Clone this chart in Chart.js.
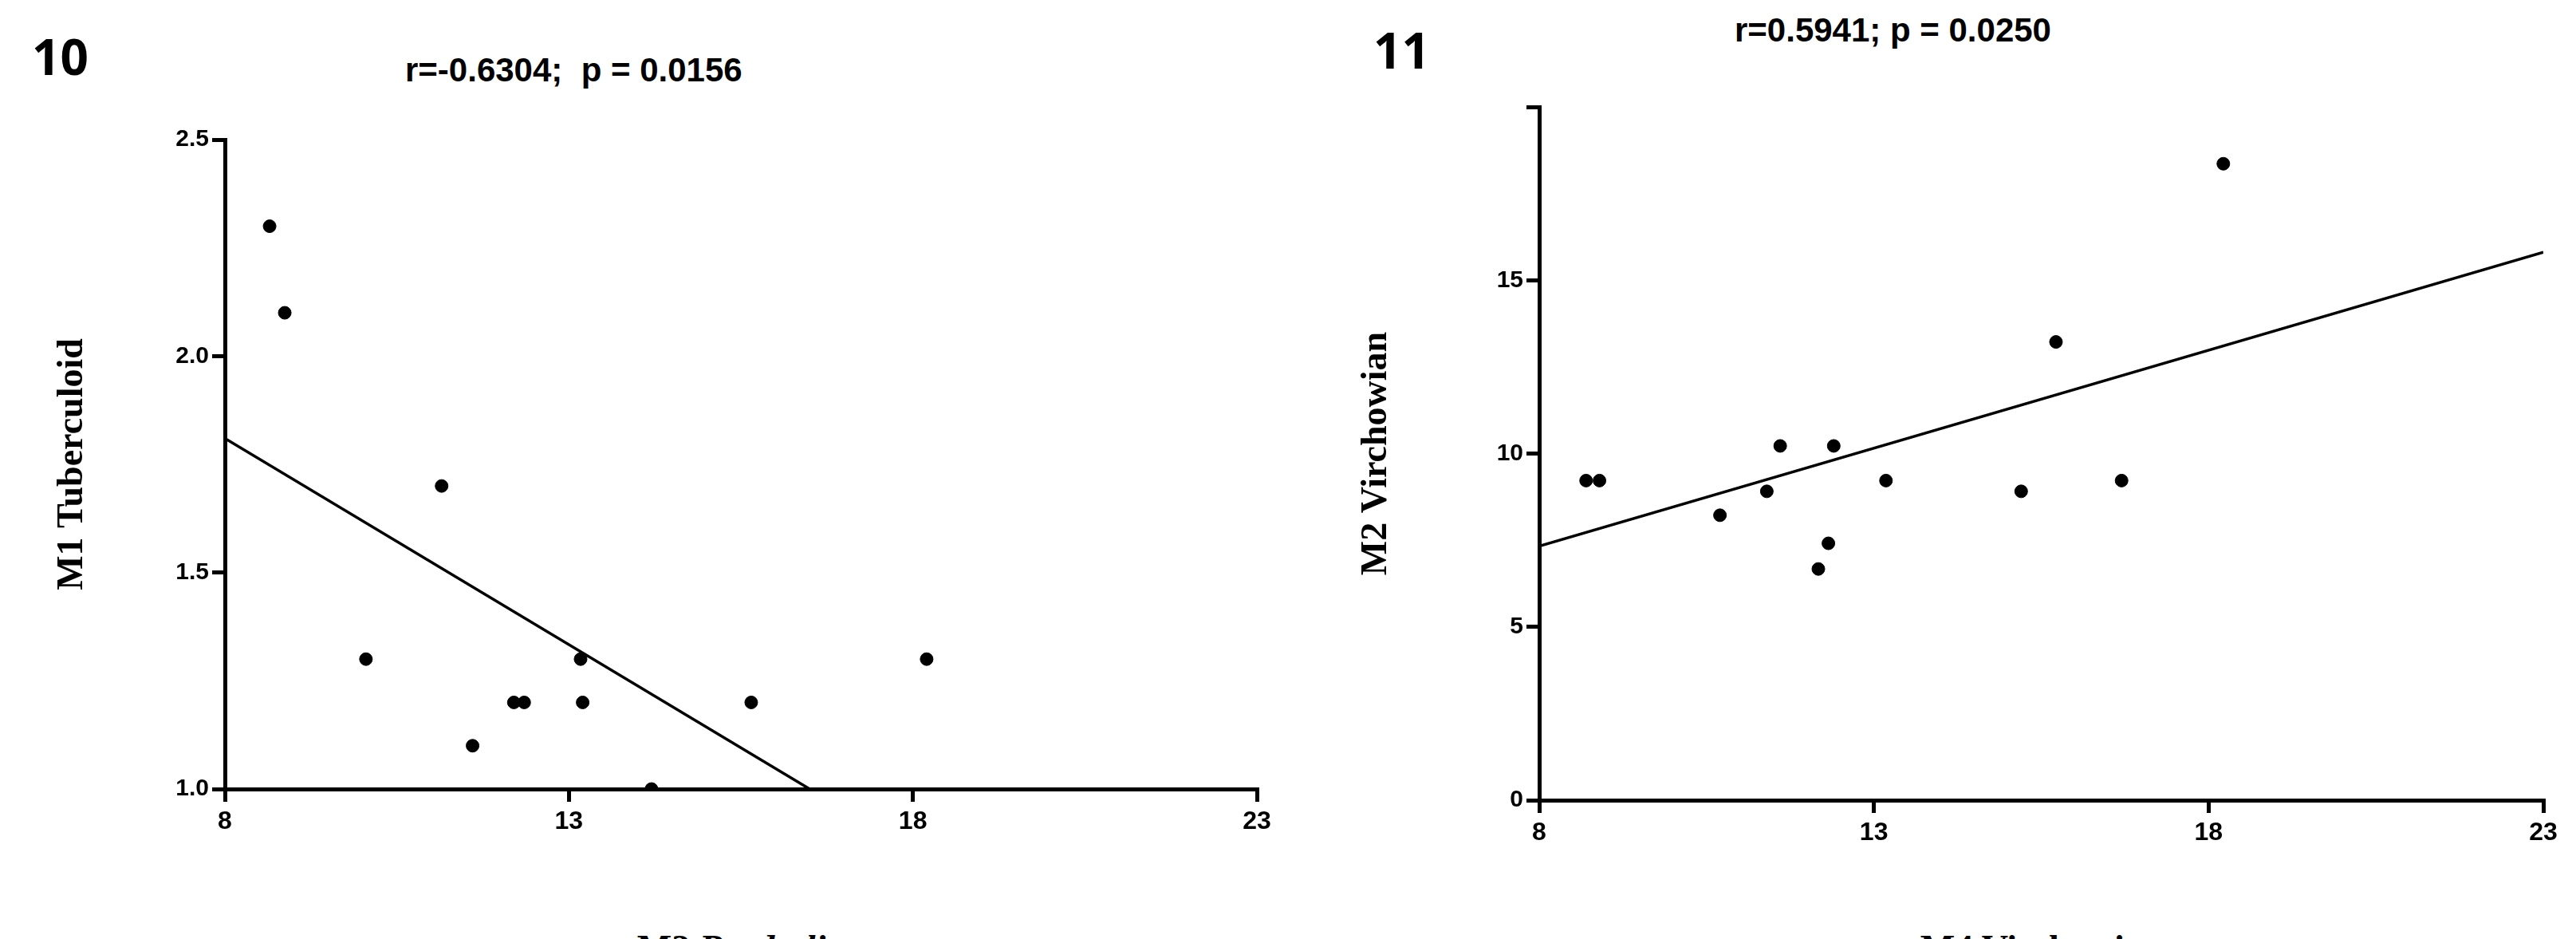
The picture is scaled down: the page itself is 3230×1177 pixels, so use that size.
<!DOCTYPE html>
<html><head><meta charset="utf-8">
<script src="https://cdn.jsdelivr.net/npm/chart.js@4/dist/chart.umd.min.js"></script>
<style>
body{margin:0;background:#fff;width:3230px;height:1177px;position:relative;overflow:hidden;font-family:"Liberation Sans",Arial,sans-serif}
.c{position:absolute;top:0;width:1615px;height:1177px}
.lbl{position:absolute;font-weight:bold;color:#000}
.xt{position:absolute;font-family:"Liberation Serif",serif;font-weight:bold;font-size:46px;color:#000;transform:translateX(-50%);white-space:nowrap}
</style></head><body>
<div class="lbl" style="left:40px;top:28px;font-size:62px;font-family:'Open Sans',sans-serif">10</div>
<div class="lbl" style="left:508px;top:64px;font-size:42px">r=-0.6304;&nbsp; p = 0.0156</div>
<div class="lbl" style="left:1722px;top:20px;font-size:62px;font-family:'Open Sans',sans-serif">11</div>
<div class="lbl" style="left:2175px;top:14px;font-size:42px">r=0.5941; p = 0.0250</div>
<div class="xt" style="left:940px;top:1162px">M2 <i>Borderline</i></div>
<div class="xt" style="left:2560px;top:1162px">M4 Virchowian</div>
<div class="c" style="left:0"><canvas id="a"></canvas></div>
<div class="c" style="left:1615px"><canvas id="b"></canvas></div>
<script>
const m2Borderline=[8.65,8.87,11.15,10.05,11.6,12.2,12.35,13.17,13.2,14.2,15.65,18.2];
const m1Tuberculoid=[2.30,2.10,1.70,1.30,1.10,1.20,1.20,1.30,1.20,1.00,1.20,1.30];
const fit1X=[8,16.5];
const fit1Y=[1.81,1.0];
const ticks1X=[8,13,18,23];
const ticks1Y=[1.0,1.5,2.0,2.5];

const m4Virchowian=[8.7,8.9,10.7,11.4,11.6,12.17,12.32,12.4,13.18,15.2,15.72,16.7,18.22];
const m2Virchowian=[9.22,9.22,8.22,8.91,10.22,6.67,7.41,10.22,9.22,8.91,13.22,9.22,18.36];
const fit2X=[8,23];
const fit2Y=[7.33,15.81];
const ticks2X=[8,13,18,23];
const ticks2Y=[0,5,10,15,20];

const zip=(a,b)=>a.map((v,i)=>({x:v,y:b[i]}));
function mk(id,xs,ys,fx,fy,tx,ty,xmin,xmax,ymin,ymax,yt,pad,yW,xH,yfmt){
  Chart.defaults.font.family='"Liberation Sans",Arial,sans-serif';
  new Chart(document.getElementById(id),{
    type:'scatter',
    data:{datasets:[
      {data:zip(xs,ys),backgroundColor:'#000',borderColor:'#000',pointRadius:8},
      {type:'line',data:zip(fx,fy),borderColor:'#000',borderWidth:3.5,pointRadius:0,fill:false}
    ]},
    options:{responsive:true,maintainAspectRatio:false,animation:false,
      layout:{padding:pad},
      plugins:{legend:{display:false},tooltip:{enabled:false}},
      scales:{
        x:{type:'linear',min:xmin,max:xmax,
          afterBuildTicks:s=>{s.ticks=tx.map(v=>({value:v}))},
          afterFit:s=>{s.height=xH},
          grid:{drawOnChartArea:false,tickLength:16,color:'#000',lineWidth:5},
          border:{color:'#000',width:5},
          ticks:{color:'#000',font:{size:32,weight:'bold'},padding:6}
        },
        y:{type:'linear',min:ymin,max:ymax,
          afterBuildTicks:s=>{s.ticks=ty.map(v=>({value:v}))},
          afterFit:s=>{s.width=yW},
          grid:{drawOnChartArea:false,tickLength:16,color:'#000',lineWidth:5},
          border:{color:'#000',width:5},
          ticks:{color:'#000',font:{size:30,weight:'bold'},padding:4,callback:yfmt},
          title:{display:true,text:yt,color:'#000',font:{family:'"Liberation Serif",serif',size:46,weight:'bold'},padding:{bottom:40}}
        }
      }
    }
  });
}
mk('a',m2Borderline,m1Tuberculoid,fit1X,fit1Y,ticks1X,ticks1Y,8,23,1,2.5,'M1 Tuberculoid',
  {left:60,right:39,top:175,bottom:0},222,188,v=>v.toFixed(1));
mk('b',m4Virchowian,m2Virchowian,fit2X,fit2Y,ticks2X,ticks2Y,8,23,0,20,'M2 Virchowian',
  {left:80,right:41,top:134,bottom:0},235,174,v=>v===20?'':String(v));
</script>
</body></html>
